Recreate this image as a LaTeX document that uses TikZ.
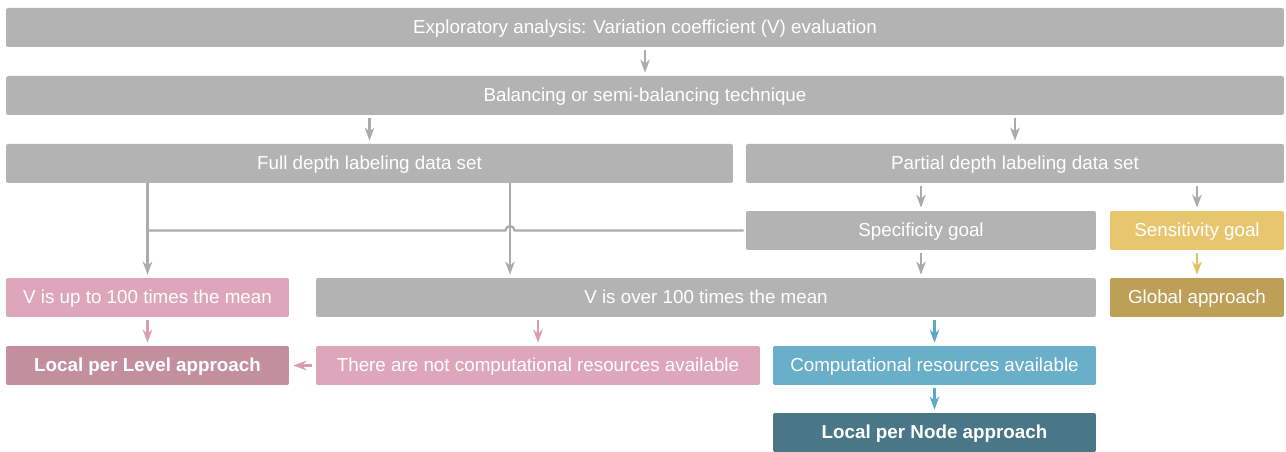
\documentclass[tikz,border=0pt]{standalone}
\usepackage{fontspec}
\setmainfont{Liberation Sans}
\usetikzlibrary{arrows.meta}
\definecolor{cgray}{HTML}{B3B3B3}
\definecolor{cgarr}{HTML}{ABABAB}
\definecolor{cpink}{HTML}{DEA6BA}
\definecolor{cpinkd}{HTML}{C38F9F}
\definecolor{cparr}{HTML}{DA9CB1}
\definecolor{cblue}{HTML}{69AFCA}
\definecolor{cbarr}{HTML}{5EA8C6}
\definecolor{cteal}{HTML}{4A7788}
\definecolor{cyel}{HTML}{E8C670}
\definecolor{cyarr}{HTML}{E6BF60}
\definecolor{cgold}{HTML}{BE9F58}
\tikzset{
  x=0.02cm, y=-0.02cm,
  box/.style={rounded corners=0.04cm, inner sep=0pt, text=white,
    font=\fontsize{10.7}{12}\selectfont, minimum height=0.78cm,
    text height=0.72em, text depth=0pt},
  gbox/.style={box, fill=cgray},
  pbox/.style={box, fill=cpink},
  pdbox/.style={box, fill=cpinkd, font=\fontsize{10.7}{12}\selectfont\bfseries},
  bbox/.style={box, fill=cblue},
  tbox/.style={box, fill=cteal, font=\fontsize{10.7}{12}\selectfont\bfseries},
  ybox/.style={box, fill=cyel},
  gdbox/.style={box, fill=cgold},
  arr/.style={line width=1.25pt, -{Stealth[length=0.26cm,width=0.19cm,inset=0.08cm]}},
  garr/.style={arr, draw=cgarr},
  parr/.style={arr, draw=cparr},
  barr/.style={arr, draw=cbarr},
  yarr/.style={arr, draw=cyarr},
}
\begin{document}
\begin{tikzpicture}
\useasboundingbox (0,0) rectangle (1286,452);
\node[gbox, minimum width=25.56cm] (n1) at (645,27.5) {Exploratory analysis: Variation coefficient (V) evaluation};
\node[gbox, minimum width=25.56cm] (n2) at (645,95.5) {Balancing or semi-balancing technique};
\node[gbox, minimum width=14.54cm] (full) at (369.5,163.5) {Full depth labeling data set};
\node[gbox, minimum width=10.76cm] (part) at (1015,163.5) {Partial depth labeling data set};
\node[gbox, minimum width=7.0cm] (spec) at (921,230.5) {Specificity goal};
\node[ybox, minimum width=3.48cm] (sens) at (1197,230.5) {Sensitivity goal};
\node[pbox, minimum width=5.66cm] (vup) at (147.5,297.5) {V is up to 100 times the mean};
\node[gbox, minimum width=15.6cm] (vover) at (706,297.5) {V is over 100 times the mean};
\node[gdbox, minimum width=3.48cm] (glob) at (1197,297.5) {Global approach};
\node[pdbox, minimum width=5.66cm] (level) at (147.5,365.5) {Local per Level approach};
\node[pbox, minimum width=8.88cm] (notc) at (538,365.5) {There are not computational resources available};
\node[bbox, minimum width=6.46cm] (comp) at (934.5,365.5) {Computational resources available};
\node[tbox, minimum width=6.46cm] (lnode) at (934.5,432.5) {Local per Node approach};

\draw[garr] ([yshift=-0.06cm]n1.south) -- ([yshift=0.06cm]n2.north);
\draw[garr] ([yshift=-0.06cm]n2.south -| full.north) -- ([yshift=0.06cm]full.north);
\draw[garr] ([yshift=-0.06cm]n2.south -| part.north) -- ([yshift=0.06cm]part.north);
\draw[garr] ([yshift=-0.06cm]part.south -| spec.north) -- ([yshift=0.06cm]spec.north);
\draw[garr] ([yshift=-0.06cm]part.south -| sens.north) -- ([yshift=0.06cm]sens.north);
\draw[garr] (full.south -| vup.north) -- ([yshift=0.06cm]vup.north);
\draw[garr] (full.south -| 510,0) -- ([yshift=0.06cm]vover.north -| 510,0);
\draw[line width=1.25pt, draw=cgarr] ([xshift=-0.04cm]spec.west) -- (spec.west -| 514.5,0) arc[start angle=0, end angle=180, radius=0.09cm] -- (spec.west -| vup.north);
\draw[garr] ([yshift=-0.06cm]spec.south) -- ([yshift=0.06cm]vover.north -| spec.south);
\draw[yarr] ([yshift=-0.06cm]sens.south) -- ([yshift=0.06cm]glob.north);
\draw[parr] ([yshift=-0.06cm]vup.south) -- ([yshift=0.06cm]level.north);
\draw[parr] ([yshift=-0.06cm]vover.south -| notc.north) -- ([yshift=0.06cm]notc.north);
\draw[barr] ([yshift=-0.06cm]vover.south -| comp.north) -- ([yshift=0.06cm]comp.north);
\draw[parr] ([xshift=-0.08cm]notc.west) -- ([xshift=0.08cm]level.east);
\draw[barr] ([yshift=-0.06cm]comp.south) -- ([yshift=0.06cm]lnode.north);
\end{tikzpicture}
\end{document}
